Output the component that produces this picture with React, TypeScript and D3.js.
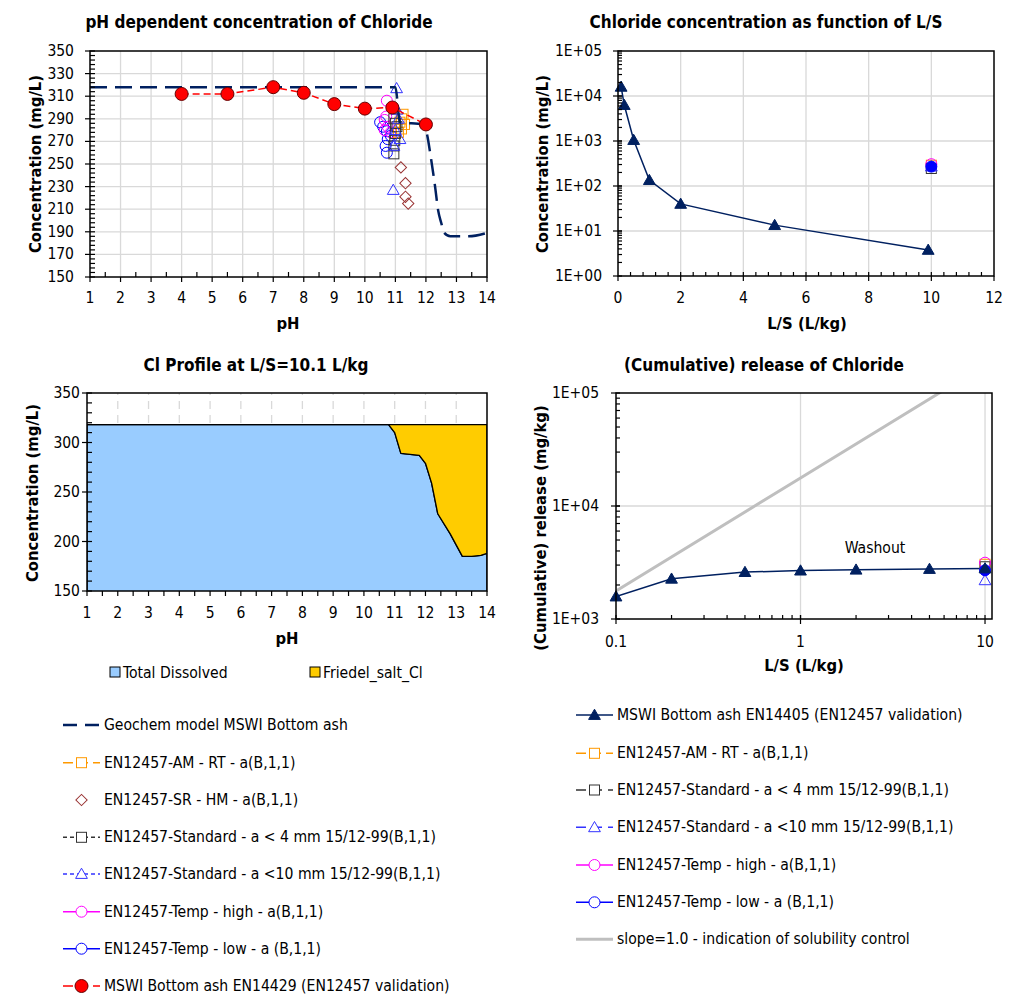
import * as d3 from "d3";
import { useEffect, useRef } from "react";

const FONT = "'DejaVu Sans Condensed', 'DejaVu Sans', sans-serif";
const TICK = 15.5;
const TITLE = 17;
const AXIS = 16.5;
const LEG = 15.6;

// --- pH dependent concentration (mg/L) ---
const modelPH = [1, 11.0, 11.15, 11.9, 12.03, 12.16, 12.3, 12.4, 12.5, 12.6, 12.8, 13.4, 14];
const modelConc = [318, 318, 287, 285, 277, 256, 230, 209, 198, 189, 186, 186, 189];

const valPH = [4, 5.5, 7, 8, 9, 10, 10.9, 12];
const valConc = [312, 312, 318, 313, 303, 299, 300, 285];

const amPH = [11.25, 11.2, 11.3, 11.2, 11.1, 11.15];
const amConc = [294, 290, 285, 281, 278, 287];
const srPH = [11.18, 11.33, 11.33, 11.42];
const srConc = [247, 233, 221, 215];
const std4PH = [10.95, 11.0, 11.05, 11.0, 10.98, 10.95, 10.95];
const std4Conc = [290, 286, 283, 277, 271, 266, 259];
const std10PH = [11.04, 11.05, 11.1, 11.0, 11.15, 10.95, 10.93];
const std10Conc = [317, 298, 290, 280, 272, 266, 227];
const highPH = [10.72, 10.7, 10.65, 10.75, 10.65, 10.85];
const highConc = [306, 292, 289, 283, 280, 278];
const lowPH = [10.5, 10.6, 10.72, 10.75, 10.68, 10.72, 10.85];
const lowConc = [287, 283, 279, 272, 266, 260, 275];

// --- Cl profile at L/S = 10.1 ---
const profilePH = [1, 10.8, 11.0, 11.2, 11.8, 12.0, 12.2, 12.4, 12.8, 13.2, 13.5, 13.8, 14];
const totalDissolved = [318, 318, 310, 289, 287, 279, 259, 228, 208, 185, 185, 186, 188];
const friedelSalt = [0, 0, 8, 29, 31, 39, 59, 90, 110, 133, 133, 132, 130];

// --- L/S dependent ---
const lsValues = [0.1, 0.2, 0.5, 1, 2, 5, 9.9];
const lsConc = [16000, 6300, 1050, 135, 40, 13.5, 3.8];
const cumLS = [0.1, 0.2, 0.5, 1, 2, 5, 10];
const cumRelease = [1580, 2270, 2600, 2680, 2730, 2770, 2800];
const slopeLS = [0.1, 1, 10];
const slopeRelease = [1770, 17700, 177000];

// lab tests at L/S 10: AM-RT, Std<4, Std<10, Temp high, Temp low
const labKeys = ["am", "std4", "std10", "high", "low"];
const labConcAt10 = [290, 245, 270, 305, 270];
const labReleaseAt10 = [3050, 2900, 2200, 3150, 2700];

const C = {
  navy: "#002060",
  orange: "#FF9900",
  brown: "#993333",
  black: "#333333",
  blueTri: "#3333FF",
  magenta: "#FF00FF",
  blue: "#0000FF",
  red: "#FF0000",
  grid: "#D9D9D9",
  slope: "#BFBFBF",
  dissolved: "#99CCFF",
  friedel: "#FFCC00",
};

type Sel = d3.Selection<SVGGElement, unknown, null, undefined>;

const labStyle: Record<string, { color: string; marker: string }> = {
  am: { color: C.orange, marker: "square" },
  std4: { color: C.black, marker: "square" },
  std10: { color: C.blueTri, marker: "triangle" },
  high: { color: C.magenta, marker: "circle" },
  low: { color: C.blue, marker: "circle" },
};

function marker(g: Sel, type: string, x: number, y: number, color: string, fill = "none", stroke?: string) {
  const s = stroke ?? color;
  if (type === "square") {
    g.append("rect").attr("x", x - 5).attr("y", y - 5).attr("width", 10).attr("height", 10)
      .attr("fill", fill).attr("stroke", s).attr("stroke-width", 1);
  } else if (type === "circle") {
    g.append("circle").attr("cx", x).attr("cy", y).attr("r", 5.5)
      .attr("fill", fill).attr("stroke", s).attr("stroke-width", 1);
  } else if (type === "bigcircle") {
    g.append("circle").attr("cx", x).attr("cy", y).attr("r", 6.5)
      .attr("fill", fill).attr("stroke", s).attr("stroke-width", 1);
  } else if (type === "triangle") {
    g.append("path").attr("d", d3.symbol(d3.symbolTriangle, 60)())
      .attr("transform", `translate(${x},${y + 1})`)
      .attr("fill", fill).attr("stroke", s).attr("stroke-width", 1);
  } else if (type === "diamond") {
    g.append("rect").attr("x", -4).attr("y", -4).attr("width", 8).attr("height", 8)
      .attr("transform", `translate(${x},${y}) rotate(45)`)
      .attr("fill", fill).attr("stroke", s).attr("stroke-width", 1);
  }
}

function text(g: Sel, x: number, y: number, str: string, size: number, opts: { bold?: boolean; anchor?: string; rotate?: boolean } = {}) {
  const t = g.append("text")
    .attr("x", x).attr("y", y)
    .attr("font-family", FONT)
    .attr("font-size", size)
    .attr("font-weight", opts.bold ? "bold" : "normal")
    .attr("text-anchor", opts.anchor ?? "middle")
    .attr("dominant-baseline", "central")
    .attr("fill", "#000")
    .text(str);
  if (opts.rotate) t.attr("transform", `rotate(-90, ${x}, ${y})`);
  return t;
}

function frame(g: Sel, x0: number, y0: number, x1: number, y1: number) {
  g.append("rect").attr("x", x0).attr("y", y0).attr("width", x1 - x0).attr("height", y1 - y0)
    .attr("fill", "none").attr("stroke", "#000").attr("stroke-width", 1.5);
}

function ticksY(g: Sel, x: number, ys: number[], len: number) {
  ys.forEach((y) => g.append("line").attr("x1", x).attr("x2", x + len).attr("y1", y).attr("y2", y)
    .attr("stroke", "#000").attr("stroke-width", 1.2));
}
function ticksX(g: Sel, y: number, xs: number[], len: number) {
  xs.forEach((x) => g.append("line").attr("x1", x).attr("x2", x).attr("y1", y).attr("y2", y + len)
    .attr("stroke", "#000").attr("stroke-width", 1.2));
}

function pairs(xs: number[], ys: number[]) {
  return xs.map((x, i) => [x, ys[i]] as [number, number]);
}

function drawPHChart(svg: Sel) {
  const g = svg.append("g");
  const x = d3.scaleLinear().domain([1, 14]).range([90, 487]);
  const y = d3.scaleLinear().domain([150, 350]).range([277, 51]);

  d3.range(2, 14).forEach((v) => g.append("line").attr("x1", x(v)).attr("x2", x(v)).attr("y1", y(150)).attr("y2", y(350))
    .attr("stroke", C.grid).attr("stroke-width", 1.3));
  d3.range(170, 350, 20).forEach((v) => g.append("line").attr("x1", x(1)).attr("x2", x(14)).attr("y1", y(v)).attr("y2", y(v))
    .attr("stroke", C.grid).attr("stroke-width", 1.3));

  const clipId = "clip-ph";
  g.append("clipPath").attr("id", clipId).append("rect")
    .attr("x", x(1)).attr("y", y(350)).attr("width", x(14) - x(1)).attr("height", y(150) - y(350));
  const plot = g.append("g").attr("clip-path", `url(#${clipId})`);

  const scatter = (xs: number[], ys: number[], type: string, color: string) =>
    xs.forEach((v, i) => marker(plot, type, x(v), y(ys[i]), color));
  scatter(lowPH, lowConc, "circle", C.blue);
  scatter(highPH, highConc, "circle", C.magenta);
  scatter(amPH, amConc, "square", C.orange);
  scatter(std4PH, std4Conc, "square", C.black);
  scatter(std10PH, std10Conc, "triangle", C.blueTri);
  scatter(srPH, srConc, "diamond", C.brown);

  const line = d3.line<[number, number]>().x((d) => x(d[0])).y((d) => y(d[1]));
  plot.append("path").datum(pairs(modelPH, modelConc))
    .attr("d", line.curve(d3.curveMonotoneX))
    .attr("fill", "none").attr("stroke", C.navy).attr("stroke-width", 2.5).attr("stroke-dasharray", "17,8");

  const redLine = d3.line<[number, number]>().x((d) => x(d[0])).y((d) => y(d[1]));
  plot.append("path").datum(pairs(valPH, valConc))
    .attr("d", redLine)
    .attr("fill", "none").attr("stroke", C.red).attr("stroke-width", 1.5).attr("stroke-dasharray", "7,4");
  valPH.forEach((v, i) => marker(plot, "bigcircle", x(v), y(valConc[i]), C.red, C.red, "#660000"));

  frame(g, x(1), y(350), x(14), y(150));
  ticksY(g, x(1), d3.range(150, 351, 20).map(y), -5);
  ticksY(g, x(1), d3.range(150, 351, 4).map(y), 5);
  ticksX(g, y(150), d3.range(1, 15).map(x), 5);
  ticksX(g, y(150), d3.range(1.5, 14, 1).map(x), -5);

  d3.range(150, 351, 20).forEach((v) => text(g, 74, y(v), String(v), TICK, { anchor: "end" }));
  d3.range(1, 15).forEach((v) => text(g, x(v), 298, String(v), TICK));

  text(g, 259, 22, "pH dependent concentration of Chloride", TITLE, { bold: true });
  text(g, 288, 323, "pH", AXIS, { bold: true });
  text(g, 35, 164, "Concentration (mg/L)", AXIS, { bold: true, rotate: true });
}

function logMinor(lo: number, hi: number) {
  const out: number[] = [];
  for (let e = lo; e < hi; e++) for (let k = 1; k <= 10; k++) out.push(k * Math.pow(10, e));
  return out;
}

function drawLSChart(svg: Sel) {
  const g = svg.append("g");
  const x = d3.scaleLinear().domain([0, 12]).range([618, 994]);
  const y = d3.scaleLog().domain([1, 1e5]).range([276, 51]);

  [2, 4, 6, 8, 10].forEach((v) => g.append("line").attr("x1", x(v)).attr("x2", x(v)).attr("y1", y(1)).attr("y2", y(1e5))
    .attr("stroke", C.grid).attr("stroke-width", 1.3));
  [10, 100, 1000, 10000].forEach((v) => g.append("line").attr("x1", x(0)).attr("x2", x(12)).attr("y1", y(v)).attr("y2", y(v))
    .attr("stroke", C.grid).attr("stroke-width", 1.3));

  const line = d3.line<[number, number]>().x((d) => x(d[0])).y((d) => y(d[1]));
  g.append("path").datum(pairs(lsValues, lsConc)).attr("d", line)
    .attr("fill", "none").attr("stroke", C.navy).attr("stroke-width", 1.5);
  lsValues.forEach((v, i) => marker(g, "triangle", x(v), y(lsConc[i]), C.navy, C.navy));

  labKeys.forEach((k, i) => {
    const st = labStyle[k];
    marker(g, st.marker, x(10), y(labConcAt10[i]), st.color, k === "low" ? C.blue : "none");
  });

  frame(g, x(0), y(1e5), x(12), y(1));
  ticksY(g, x(0), [1, 10, 100, 1000, 1e4, 1e5].map(y), -5);
  ticksY(g, x(0), logMinor(0, 5).map(y), 4);
  ticksX(g, y(1), d3.range(0, 13, 2).map(x), 5);
  ticksX(g, y(1), d3.range(0.4, 12, 0.4).map(x), -4);

  [1, 10, 100, 1000, 1e4, 1e5].forEach((v, i) => text(g, 602, y(v), `1E+0${i}`, TICK, { anchor: "end" }));
  d3.range(0, 13, 2).forEach((v) => text(g, x(v), 298, String(v), TICK));

  text(g, 766, 22, "Chloride concentration as function of L/S", TITLE, { bold: true });
  text(g, 807, 323, "L/S (L/kg)", AXIS, { bold: true });
  text(g, 542, 164, "Concentration (mg/L)", AXIS, { bold: true, rotate: true });
}

function drawProfileChart(svg: Sel) {
  const g = svg.append("g");
  const x = d3.scaleLinear().domain([1, 14]).range([87, 487]);
  const y = d3.scaleLinear().domain([150, 350]).range([591, 393]);

  d3.range(2, 14).forEach((v) => g.append("line").attr("x1", x(v)).attr("x2", x(v)).attr("y1", y(150)).attr("y2", y(350))
    .attr("stroke", C.grid).attr("stroke-width", 1.3).attr("stroke-dasharray", "8,6"));

  const table = profilePH.map((p, i) => ({ pH: p, dissolved: totalDissolved[i], friedel: friedelSalt[i] }));
  const stack = d3.stack<{ pH: number; dissolved: number; friedel: number }>().keys(["dissolved", "friedel"]);
  const series = stack(table);

  const clipId = "clip-profile";
  g.append("clipPath").attr("id", clipId).append("rect")
    .attr("x", x(1)).attr("y", y(350)).attr("width", x(14) - x(1)).attr("height", y(150) - y(350));
  const plot = g.append("g").attr("clip-path", `url(#${clipId})`);

  const area = d3.area<d3.SeriesPoint<{ pH: number }>>()
    .x((d) => x(d.data.pH)).y0((d) => y(d[0])).y1((d) => y(d[1]));
  const fills = [C.dissolved, C.friedel];
  series.forEach((s, i) => {
    plot.append("path").datum(s as any).attr("d", area as any)
      .attr("fill", fills[i]).attr("stroke", "#000").attr("stroke-width", 1.3).attr("stroke-linejoin", "round");
  });

  frame(g, x(1), y(350), x(14), y(150));
  ticksY(g, x(1), d3.range(150, 351, 50).map(y), -5);
  ticksY(g, x(1), d3.range(150, 351, 10).map(y), 5);
  ticksX(g, y(150), d3.range(1, 15).map(x), 5);
  ticksX(g, y(150), d3.range(1.5, 14, 1).map(x), 5);

  d3.range(150, 351, 50).forEach((v) => text(g, 80, y(v), String(v), TICK, { anchor: "end" }));
  d3.range(1, 15).forEach((v) => text(g, x(v), 613, String(v), TICK));

  text(g, 256, 365, "Cl Profile at L/S=10.1 L/kg", TITLE, { bold: true });
  text(g, 287, 638, "pH", AXIS, { bold: true });
  text(g, 32, 493, "Concentration (mg/L)", AXIS, { bold: true, rotate: true });

  const keys = [["Total Dissolved", C.dissolved, 110], ["Friedel_salt_Cl", C.friedel, 310]] as const;
  keys.forEach(([label, color, lx]) => {
    g.append("rect").attr("x", lx).attr("y", 667).attr("width", 10).attr("height", 10)
      .attr("fill", color).attr("stroke", "#000").attr("stroke-width", 1);
    text(g, lx + 13, 673, label, LEG, { anchor: "start" });
  });
}

function drawReleaseChart(svg: Sel) {
  const g = svg.append("g");
  const x = d3.scaleLog().domain([0.1, 10.91]).range([616, 992]);
  const y = d3.scaleLog().domain([1e3, 1e5]).range([619, 393]);

  [1, 10].forEach((v) => g.append("line").attr("x1", x(v)).attr("x2", x(v)).attr("y1", y(1e3)).attr("y2", y(1e5))
    .attr("stroke", C.grid).attr("stroke-width", 1.3));
  g.append("line").attr("x1", x(0.1)).attr("x2", x(10.91)).attr("y1", y(1e4)).attr("y2", y(1e4))
    .attr("stroke", C.grid).attr("stroke-width", 1.3);

  const clipId = "clip-release";
  g.append("clipPath").attr("id", clipId).append("rect")
    .attr("x", x(0.1)).attr("y", y(1e5)).attr("width", x(10.91) - x(0.1)).attr("height", y(1e3) - y(1e5));
  const plot = g.append("g").attr("clip-path", `url(#${clipId})`);

  const line = d3.line<[number, number]>().x((d) => x(d[0])).y((d) => y(d[1]));
  plot.append("path").datum(pairs(slopeLS, slopeRelease)).attr("d", line)
    .attr("fill", "none").attr("stroke", C.slope).attr("stroke-width", 3);
  plot.append("path").datum(pairs(cumLS, cumRelease)).attr("d", line)
    .attr("fill", "none").attr("stroke", C.navy).attr("stroke-width", 1.5);

  labKeys.forEach((k, i) => {
    const st = labStyle[k];
    marker(g, st.marker, x(10), y(labReleaseAt10[i]), st.color, k === "low" ? C.blue : "none");
  });
  cumLS.forEach((v, i) => marker(g, "triangle", x(v), y(cumRelease[i]), C.navy, C.navy));

  text(g, 875, 548, "Washout", LEG);

  frame(g, x(0.1), y(1e5), x(10.91), y(1e3));
  ticksY(g, x(0.1), [1e3, 1e4, 1e5].map(y), -5);
  ticksY(g, x(0.1), logMinor(3, 5).map(y), 4);
  ticksX(g, y(1e3), [0.1, 1, 10].map(x), 5);
  ticksX(g, y(1e3), logMinor(-1, 1).filter((v) => v < 10.91).map(x), -4);

  [1e3, 1e4, 1e5].forEach((v, i) => text(g, 599, y(v), `1E+0${i + 3}`, TICK, { anchor: "end" }));
  [0.1, 1, 10].forEach((v) => text(g, x(v), 642, String(v), TICK));

  text(g, 764, 365, "(Cumulative) release of Chloride", TITLE, { bold: true });
  text(g, 804, 665, "L/S (L/kg)", AXIS, { bold: true });
  text(g, 540, 528, "(Cumulative) release (mg/kg)", AXIS, { bold: true, rotate: true });
}

interface LegendEntry {
  label: string;
  color: string;
  dash?: string;
  width?: number;
  marker?: string;
  fill?: string;
  stroke?: string;
  noLine?: boolean;
}

const leftLegend: LegendEntry[] = [
  { label: "Geochem model MSWI Bottom ash", color: C.navy, dash: "14,8", width: 2.5 },
  { label: "EN12457-AM - RT - a(B,1,1)", color: C.orange, dash: "10,5", marker: "square" },
  { label: "EN12457-SR - HM - a(B,1,1)", color: C.brown, marker: "diamond", noLine: true },
  { label: "EN12457-Standard - a < 4 mm 15/12-99(B,1,1)", color: C.black, dash: "4,3", marker: "square" },
  { label: "EN12457-Standard - a <10 mm 15/12-99(B,1,1)", color: C.blueTri, dash: "4,3", marker: "triangle" },
  { label: "EN12457-Temp - high - a(B,1,1)", color: C.magenta, marker: "circle" },
  { label: "EN12457-Temp - low - a (B,1,1)", color: C.blue, marker: "circle" },
  { label: "MSWI Bottom ash EN14429 (EN12457 validation)", color: C.red, dash: "10,5", marker: "bigcircle", fill: C.red, stroke: "#660000" },
];

const rightLegend: LegendEntry[] = [
  { label: "MSWI Bottom ash EN14405 (EN12457 validation)", color: C.navy, marker: "triangle", fill: C.navy },
  { label: "EN12457-AM - RT - a(B,1,1)", color: C.orange, dash: "10,5", marker: "square" },
  { label: "EN12457-Standard - a < 4 mm 15/12-99(B,1,1)", color: C.black, dash: "10,6", marker: "square" },
  { label: "EN12457-Standard - a <10 mm 15/12-99(B,1,1)", color: C.blueTri, dash: "10,6", marker: "triangle" },
  { label: "EN12457-Temp - high - a(B,1,1)", color: C.magenta, marker: "circle" },
  { label: "EN12457-Temp - low - a (B,1,1)", color: C.blue, marker: "circle" },
  { label: "slope=1.0 - indication of solubility control", color: C.slope, width: 3 },
];

function drawLegend(svg: Sel, entries: LegendEntry[], x0: number, x1: number, tx: number, ys: number[]) {
  const g = svg.append("g");
  entries.forEach((e, i) => {
    const yy = ys[i];
    if (!e.noLine) {
      g.append("line").attr("x1", x0).attr("x2", x1).attr("y1", yy).attr("y2", yy)
        .attr("stroke", e.color).attr("stroke-width", e.width ?? 1.5)
        .attr("stroke-dasharray", e.dash ?? null);
    }
    if (e.marker) marker(g, e.marker, (x0 + x1) / 2, yy, e.color, e.fill ?? "#fff", e.stroke);
    text(g, tx, yy, e.label, LEG, { anchor: "start" });
  });
}

export default function App() {
  const svgRef = useRef<SVGSVGElement>(null);

  useEffect(() => {
    if (!svgRef.current) return;
    const root = d3.select(svgRef.current);
    root.selectAll("*").remove();
    const svg = root.append("g") as unknown as Sel;
    svg.append("rect").attr("width", 1024).attr("height", 1006).attr("fill", "#fff");

    drawPHChart(svg);
    drawLSChart(svg);
    drawProfileChart(svg);
    drawReleaseChart(svg);

    drawLegend(svg, leftLegend, 63, 100, 104, [725, 762.7, 800, 837.3, 874, 911.7, 948.7, 986]);
    drawLegend(svg, rightLegend, 576, 613, 617, [715, 753.3, 790, 827.3, 865, 902.3, 939.3]);
  }, []);

  return (
    <svg
      ref={svgRef}
      width={1024}
      height={1006}
      style={{ position: "absolute", left: 0, top: 0, display: "block" }}
    ></svg>
  );
}
